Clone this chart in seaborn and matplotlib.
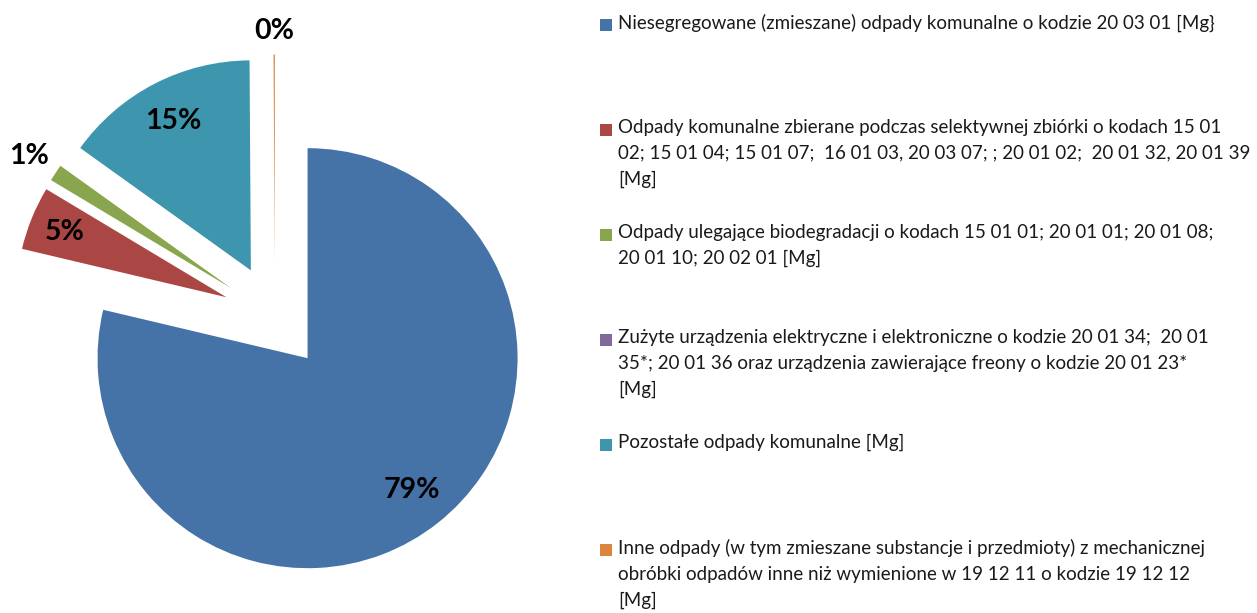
import numpy as np
import matplotlib
matplotlib.use("Agg")
import matplotlib.pyplot as plt
import seaborn as sns

# shares of each waste stream (percent)
categories = [
    "Niesegregowane (zmieszane) odpady komunalne o kodzie 20 03 01 [Mg}",
    "Odpady komunalne zbierane podczas selektywnej zbiórki o kodach 15 01\n"
    "02; 15 01 04; 15 01 07;  16 01 03, 20 03 07; ; 20 01 02;  20 01 32, 20 01 39\n"
    "[Mg]",
    "Odpady ulegające biodegradacji o kodach 15 01 01; 20 01 01; 20 01 08;\n"
    "20 01 10; 20 02 01 [Mg]",
    "Zużyte urządzenia elektryczne i elektroniczne o kodzie 20 01 34;  20 01\n"
    "35*; 20 01 36 oraz urządzenia zawierające freony o kodzie 20 01 23*\n"
    "[Mg]",
    "Pozostałe odpady komunalne [Mg]",
    "Inne odpady (w tym zmieszane substancje i przedmioty) z mechanicznej\n"
    "obróbki odpadów inne niż wymienione w 19 12 11 o kodzie 19 12 12\n"
    "[Mg]",
]
shares = [78.7, 4.9, 1.3, 0.0, 15.0, 0.1]
colors = ["#4572A7", "#AA4643", "#89A54E", "#80699B", "#3D96AE", "#DB843D"]

sns.set_theme(style="white")
plt.rcParams["font.family"] = ["Lato", "DejaVu Sans"]

W, H = 1257, 613
fig = plt.figure(figsize=(W / 100, H / 100), dpi=100)

# pie axes: centre at (275, 317) px, radius 210 px
cx, cy, R, S = 275, 317, 210, 270
ax = fig.add_axes([(cx - S) / W, (H - cy - S) / H, 2 * S / W, 2 * S / H])
pal = sns.color_palette(colors)
wedges, texts = ax.pie(
    shares, colors=pal, explode=[0.25] * len(shares), startangle=90,
    counterclock=False, radius=1, wedgeprops=dict(linewidth=0),
)
ax.set_xlim(-S / R, S / R)
ax.set_ylim(-S / R, S / R)
ax.set_aspect("equal")
ax.axis("off")

# percent labels; small slices get their label outside
label_dist = [0.8, 0.83, 1.15, 0.8, 0.8, 1.11]
total = sum(shares)
for w, v, d in zip(wedges, shares, label_dist):
    if v == 0:
        continue
    th = np.deg2rad((w.theta1 + w.theta2) / 2)
    x0, y0 = w.center
    ax.text(x0 + d * np.cos(th), y0 + d * np.sin(th), f"{v / total * 100:.0f}%",
            ha="center", va="center", fontsize=20.5, fontweight="bold", color="black")

# legend drawn in pixel coordinates
lax = fig.add_axes([0, 0, 1, 1], zorder=-1)
lax.set_xlim(0, W)
lax.set_ylim(H, 0)
lax.axis("off")
for i, (lab, c) in enumerate(zip(categories, colors)):
    y = 25 + 105 * i
    lax.scatter([606], [y], marker="s", s=80, color=c, linewidths=0)
    lax.text(618, y - 11, lab, ha="left", va="top", fontsize=13.5,
             linespacing=1.62, color="#1a1a1a")

fig.savefig("out.png", dpi=100)
